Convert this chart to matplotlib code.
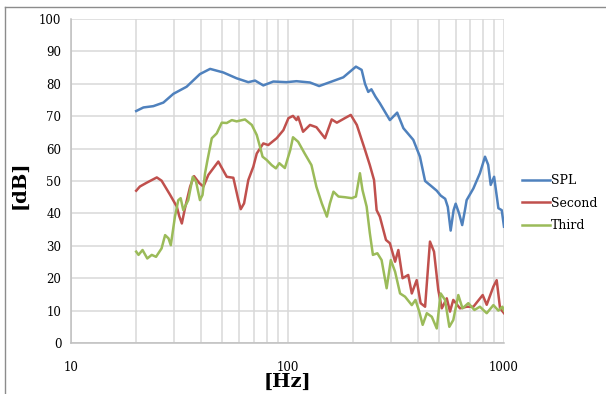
import matplotlib
matplotlib.use("Agg")
import matplotlib.pyplot as plt
from matplotlib.lines import Line2D
from matplotlib.ticker import FixedLocator, NullFormatter

# --- data (frequency in Hz, level in dB) ---
spl_f = [20, 21.6, 24, 26.7, 29.7, 34.2, 39.4, 43.9, 50.5, 58.2, 65.9, 70.8,
         77.3, 86, 99, 110, 127, 140, 157, 181, 207, 220, 228, 236, 244, 255,
         267, 297, 321, 343, 381, 409, 432, 460, 489, 510, 535, 550, 567, 585,
         598, 620, 641, 660, 672, 722, 774, 817, 845, 868, 900, 942, 976, 1000]
spl_db = [71.6, 72.7, 73.1, 74.2, 76.9, 79.1, 83.0, 84.6, 83.5, 81.7, 80.5,
          81.0, 79.5, 80.7, 80.5, 80.8, 80.4, 79.3, 80.5, 82.0, 85.3, 84.3,
          80.0, 77.5, 78.3, 76.0, 74.0, 68.8, 71.1, 66.3, 62.7, 57.5, 50.0,
          48.5, 47.0, 45.5, 44.5, 42.0, 34.7, 41.0, 43.0, 40.0, 36.4, 41.0,
          44.1, 47.7, 52.4, 57.5, 55.0, 48.8, 51.3, 41.6, 41.0, 35.9]

second_f = [20, 20.8, 22.4, 24.9, 26.2, 28.7, 30.8, 31.6, 32.5, 33.6, 35.5,
            37.0, 39.2, 40.9, 43.1, 47.9, 52.4, 56.2, 59.3, 60.8, 63.0, 65.9,
            69.5, 72.1, 77.3, 81.5, 89.1, 95.7, 101, 106, 110, 112, 118, 127,
            136, 149, 160, 169, 184, 196, 209, 228, 240, 251, 258, 267, 285,
            297, 314, 325, 340, 361, 375, 395, 412, 432, 455, 475, 497, 516,
            544, 563, 583, 626, 672, 722, 797, 832, 893, 925, 959, 1000]
second_db = [47.0, 48.3, 49.5, 51.1, 50.1, 45.7, 42.1, 39.2, 36.9, 41.6, 48.3,
             51.5, 49.3, 48.3, 51.9, 56.0, 51.3, 51.0, 44.1, 41.3, 43.1, 50.3,
             54.4, 58.5, 61.6, 61.1, 63.2, 65.7, 69.4, 70.1, 68.8, 69.8, 65.2,
             67.3, 66.6, 63.2, 69.0, 68.0, 69.4, 70.4, 67.3, 59.6, 54.9, 50.3,
             41.0, 39.0, 31.8, 30.8, 25.1, 28.7, 20.0, 21.0, 15.3, 19.4, 12.3,
             11.2, 31.3, 28.2, 16.4, 10.7, 13.8, 9.7, 13.3, 10.7, 11.2, 11.2,
             14.8, 11.8, 17.4, 19.4, 10.7, 9.2]

third_f = [20, 20.5, 21.4, 22.5, 23.6, 24.7, 26.2, 27.2, 28.2, 28.9, 30.2,
           31.3, 32.1, 33.0, 34.8, 36.5, 37.8, 39.4, 40.5, 41.6, 42.7, 44.7,
           47.1, 49.7, 52.4, 55.3, 58.2, 63.6, 68.4, 72.1, 74.6, 76.7, 80.1,
           84.5, 88.4, 91.6, 97.2, 103, 106, 112, 120, 129, 136, 144, 152, 157,
           163, 172, 184, 198, 207, 216, 222, 232, 240, 248, 260, 272, 287, 300,
           314, 331, 349, 375, 390, 406, 421, 440, 464, 489, 510, 534, 559, 583,
           615, 643, 684, 730, 774, 832, 893, 942, 983, 1000]
third_db = [28.2, 27.2, 28.7, 26.1, 27.2, 26.6, 29.2, 33.3, 32.3, 30.2, 39.0,
            44.1, 44.7, 41.0, 44.1, 51.3, 49.8, 44.1, 45.7, 52.4, 56.5, 63.2,
            64.7, 68.0, 67.9, 68.8, 68.4, 69.0, 67.3, 64.2, 60.6, 57.5, 56.5,
            54.9, 53.9, 55.5, 54.0, 59.6, 63.5, 62.1, 58.5, 54.9, 48.2, 43.1,
            39.0, 43.1, 46.7, 45.2, 45.0, 44.7, 45.2, 52.4, 47.2, 42.1, 33.9,
            27.2, 27.7, 25.6, 16.9, 25.6, 22.0, 15.3, 14.3, 11.7, 13.3, 9.7,
            5.6, 9.2, 8.1, 4.5, 15.3, 13.3, 5.0, 7.1, 14.8, 10.7, 12.3, 10.2,
            11.2, 9.2, 11.7, 10.0, 11.2, 10.0]

series = [("SPL", spl_f, spl_db, "#4F81BD"),
          ("Second", second_f, second_db, "#C0504D"),
          ("Third", third_f, third_db, "#9BBB59")]

x_major = [10, 100, 1000]
x_minor = [20, 30, 40, 50, 60, 70, 80, 90, 200, 300, 400, 500, 600, 700, 800, 900]
y_ticks = list(range(0, 101, 10))

plt.rcParams["font.family"] = ["DejaVu Serif"]

fig = plt.figure(figsize=(6.06, 3.94), dpi=100)
ax = fig.add_axes([0.1172, 0.1294, 0.7145, 0.8224])

grid_c = "#D9D9D9"
for name, f, db, c in series:
    ax.plot(f, db, color=c, lw=1.8, label=name, solid_joinstyle="round")

ax.set_xscale("log")
ax.set_xlim(10, 1000)
ax.set_ylim(0, 100)
ax.xaxis.set_major_locator(FixedLocator(x_major))
ax.xaxis.set_minor_locator(FixedLocator(x_minor))
ax.xaxis.set_minor_formatter(NullFormatter())
ax.set_xticklabels([str(v) for v in x_major])
ax.set_yticks(y_ticks)
ax.grid(True, which="both", color=grid_c, lw=1.1)
ax.set_axisbelow(True)
ax.tick_params(which="both", length=0, labelsize=8.5, colors="#000000")
ax.tick_params(axis="x", pad=13)
ax.tick_params(axis="y", pad=7)
for s in ["top", "right"]:
    ax.spines[s].set_visible(False)
for s in ["left", "bottom"]:
    ax.spines[s].set_color("#BFBFBF")
    ax.spines[s].set_linewidth(1.1)

fig.text(20 / 606, 1 - 185 / 394, "[dB]", rotation=90, ha="center",
         va="center", fontsize=14, fontweight="bold")
fig.text(287 / 606, 1 - 382 / 394, "[Hz]", ha="center", va="center",
         fontsize=14, fontweight="bold")

ax.legend(loc="center left", bbox_to_anchor=(1.0416, 0.432), frameon=False,
          borderpad=0, borderaxespad=0, handlelength=2.2, handletextpad=0.1,
          labelspacing=0.75, fontsize=9)

# outer frame (only top and left edges visible in the reference)
fig.add_artist(Line2D([5 / 606, 5 / 606], [0, 1 - 7 / 394],
                      color="#8C8C8C", lw=1.0))
fig.add_artist(Line2D([5 / 606, 1], [1 - 7 / 394, 1 - 7 / 394],
                      color="#8C8C8C", lw=1.0))

fig.savefig("out.png", dpi=100)
